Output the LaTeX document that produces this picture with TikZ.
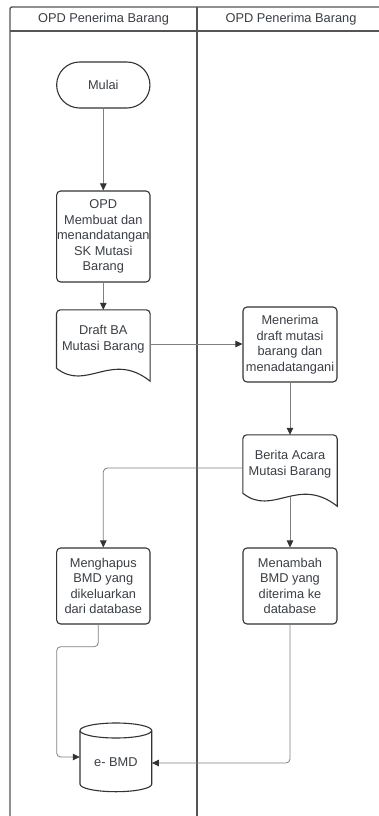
\documentclass[tikz,border=0pt]{standalone}
\usepackage{fontspec}
\setmainfont{Liberation Sans}
\usetikzlibrary{arrows.meta,calc}
\definecolor{lanecol}{HTML}{555555}
\definecolor{shapecol}{HTML}{333333}
\definecolor{conncol}{HTML}{808080}
\definecolor{textcol}{HTML}{3A3F45}
\begin{document}
\begin{tikzpicture}[x=1bp,y=-1bp,
  txt/.style={font=\fontsize{12.8bp}{15.6bp}\selectfont, text=textcol, align=center, inner sep=0pt},
  lane/.style={draw=lanecol, line width=1.4bp},
  boxst/.style={txt, draw=shapecol, line width=1.1bp, rounded corners=4bp, fill=white},
  docst/.style={draw=shapecol, line width=1.1bp, fill=white},
  conn/.style={draw=conncol, line width=0.8bp, rounded corners=4bp,
    -{Triangle[length=7bp,width=6.5bp,color=shapecol]}},
  ]
\useasboundingbox (0,0) rectangle (378,816);
\fill[white] (0,0) rectangle (378,816);
% swimlanes
\draw[lane, rounded corners=2bp] (10,816) -- (10,7) -- (379,7);
\draw[lane] (10,31) -- (379,31);
\draw[lane] (197,7) -- (197,816);
\node[txt] (h1) at (103.5,19) {OPD Penerima Barang};
\node[txt] (h2) at (291,19) {OPD Penerima Barang};

% nodes
\node[boxst, rounded corners=23bp, minimum width=93.3bp, minimum height=46bp] (mulai) at (103.3,85) {Mulai};
\node[boxst, minimum width=93.3bp, minimum height=91bp] (opd) at (103.3,236.5)
  {OPD\\Membuat dan\\menandatangan\\SK Mutasi\\Barang};

% document: Draft BA
\node[txt, minimum width=93.3bp, minimum height=58bp] (draft) at (103.3,339) {};
\draw[docst] (draft.south west) [rounded corners=4bp] -- (draft.north west) -- (draft.north east)
  [sharp corners] -- ($(draft.south east)+(0,13)$)
  .. controls ($(draft.south west)+(55,-18)$) and ($(draft.south west)+(30,24)$) .. (draft.south west) -- cycle;
\node[txt] (draftt) at (draft.center) {Draft BA\\Mutasi Barang};

\node[boxst, minimum width=94bp, minimum height=75bp] (terima) at (290,344.5)
  {Menerima\\draft mutasi\\barang dan\\menadatangani};

% document: Berita Acara
\node[txt, minimum width=94bp, minimum height=58bp] (berita) at (290,464) {};
\draw[docst] (berita.south west) [rounded corners=4bp] -- (berita.north west) -- (berita.north east)
  [sharp corners] -- ($(berita.south east)+(0,13)$)
  .. controls ($(berita.south west)+(55,-18)$) and ($(berita.south west)+(30,24)$) .. (berita.south west) -- cycle;
\node[txt] (beritat) at (berita.center) {Berita Acara\\Mutasi Barang};

\node[boxst, minimum width=93.3bp, minimum height=76bp] (hapus) at (103.3,586)
  {Menghapus\\BMD yang\\dikeluarkan\\dari database};
\node[boxst, minimum width=94bp, minimum height=76bp] (tambah) at (290,586)
  {Menambah\\BMD yang\\diterima ke\\database};

% database cylinder
\draw[docst] (80,730.5) -- (80,784.2)
  arc[start angle=180, end angle=360, x radius=35.85bp, y radius=7.5bp]
  -- (151.7,730.5);
\draw[docst] (115.85,730.5) ellipse [x radius=35.85bp, y radius=7.5bp];
\node[txt, minimum width=71.7bp] (db) at (115.85,762) {e- BMD};

% connectors
\coordinate (c1) at (56.7,646.7);
\draw[conn] (mulai) -- (opd);
\draw[conn] (opd) -- (draft);
\draw[conn] ([yshift=-5bp]draft.east) -- ([yshift=-5bp]draft.east -| terima.west);
\draw[conn] (terima) -- (berita);
\draw[conn] ([yshift=-4bp]berita.west) -| (hapus.north);
\draw[conn] ($(berita.south)+(0,3.5)$) -- (tambah.north);
\draw[conn] ([xshift=-5bp]hapus.south) |- (c1) |- ([yshift=5bp]db.west);
\draw[conn] (tambah.south) |- ([yshift=-1bp]db.east);
\end{tikzpicture}
\end{document}
